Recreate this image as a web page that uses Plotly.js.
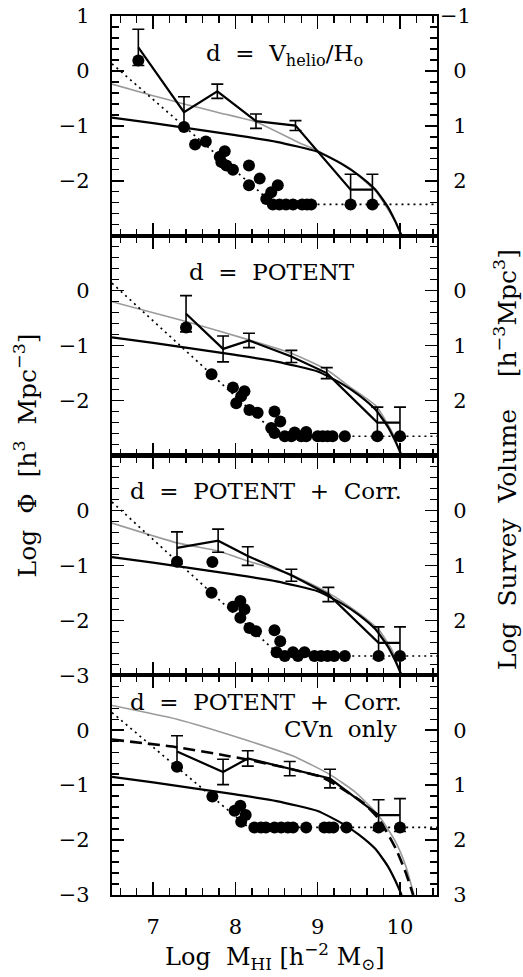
<!DOCTYPE html>
<html><head><meta charset="utf-8">
<script src="https://cdn.plot.ly/plotly-3.0.1.min.js"></script>
<style>html,body{margin:0;padding:0;background:#fff}</style>
</head><body><div id="chart" style="width:523px;height:977px"></div>
<script>
// ---------- shared reference Schechter function (solid, all panels) ----------
const schX = [6.5, 7.0, 7.5, 8.0, 8.5, 9.0, 9.3, 9.5, 9.7, 9.85, 9.95, 10.02];
const schY = [-0.85, -0.95, -1.06, -1.17, -1.29, -1.47, -1.70, -1.90, -2.16, -2.47, -2.76, -3.0];

// ---------- panel 1 : d = Vhelio/Ho ----------
const hx1 = [6.82, 7.375, 7.78, 8.25, 8.73, 9.40, 9.665];
const hy1 = [0.43, -0.75, -0.37, -0.915, -0.994, -2.16, -2.16];
const he1 = [0.33, 0.28, 0.13, 0.13, 0.09, 0.28, 0.28];
const gx1 = [6.5, 7.0, 7.375, 7.8, 8.25, 8.78, 9.0, 9.38, 9.71, 9.95, 10.02];
const gy1 = [-0.24, -0.45, -0.6, -0.76, -0.93, -1.31, -1.45, -1.76, -2.2, -2.76, -3.0];
const dx1 = [6.82, 7.375, 7.51, 7.64, 7.81, 7.87, 7.83, 7.89, 7.97, 8.165, 8.295, 8.165, 8.435, 8.515, 8.375, 8.455, 8.535, 8.615, 8.70, 8.81, 8.87, 8.92, 9.40, 9.665];
const dv1 = [-0.19, 1.02, 1.34, 1.285, 1.56, 1.46, 1.66, 1.72, 1.80, 1.72, 1.96, 2.08, 2.21, 2.08, 2.33, 2.43, 2.43, 2.43, 2.43, 2.43, 2.43, 2.43, 2.43, 2.43];
const lx1 = [6.5, 8.47, 10.45];
const lv1 = [-0.13, 2.43, 2.43];

// ---------- panel 2 : d = POTENT ----------
const hx2 = [7.40, 7.85, 8.165, 8.68, 9.11, 9.725, 10.0];
const hy2 = [-0.42, -1.06, -0.906, -1.197, -1.5, -2.40, -2.40];
const he2 = [0.33, 0.235, 0.13, 0.11, 0.1, 0.28, 0.28];
const gx2 = [6.5, 7.4, 8.165, 8.68, 9.11, 9.38, 9.71, 9.91, 10.0];
const gy2 = [-0.2, -0.56, -0.895, -1.14, -1.44, -1.74, -2.10, -2.59, -2.95];
const dx2 = [7.40, 7.71, 7.97, 8.07, 8.11, 8.01, 8.17, 8.27, 8.475, 8.545, 8.435, 8.475, 8.60, 8.68, 8.72, 8.80, 8.86, 8.86, 9.0, 9.06, 9.12, 9.18, 9.33, 9.725, 10.0];
const dv2 = [0.67, 1.52, 1.76, 1.92, 1.83, 2.05, 2.17, 2.22, 2.20, 2.38, 2.50, 2.59, 2.65, 2.65, 2.58, 2.65, 2.57, 2.65, 2.65, 2.65, 2.65, 2.65, 2.65, 2.65, 2.65];
const lx2 = [6.5, 8.53, 10.45];
const lv2 = [-0.137, 2.65, 2.65];

// ---------- panel 3 : d = POTENT + Corr. ----------
const hx3 = [7.29, 7.79, 8.15, 8.68, 9.13, 9.74, 10.0];
const hy3 = [-0.68, -0.55, -0.83, -1.18, -1.53, -2.41, -2.41];
const he3 = [0.29, 0.21, 0.17, 0.11, 0.13, 0.29, 0.29];
const gx3 = [6.5, 7.29, 7.79, 8.15, 8.68, 9.13, 9.46, 9.74, 9.91, 10.0];
const gy3 = [-0.23, -0.59, -0.74, -0.92, -1.17, -1.50, -1.83, -2.17, -2.56, -2.95];
const dx3 = [7.29, 7.72, 7.71, 7.97, 8.06, 8.11, 8.06, 8.17, 8.25, 8.475, 8.545, 8.50, 8.60, 8.70, 8.76, 8.84, 8.96, 9.04, 9.12, 9.2, 9.33, 9.74, 10.0];
const dv3 = [0.936, 0.94, 1.50, 1.755, 1.65, 1.80, 1.955, 2.14, 2.20, 2.18, 2.38, 2.58, 2.65, 2.58, 2.65, 2.58, 2.65, 2.65, 2.65, 2.65, 2.65, 2.65, 2.65];
const lx3 = [6.5, 8.55, 10.45];
const lv3 = [-0.154, 2.65, 2.65];

// ---------- panel 4 : d = POTENT + Corr., CVn only ----------
const hx4 = [7.29, 7.85, 8.15, 8.66, 9.15, 9.74, 10.0];
const hy4 = [-0.39, -0.76, -0.515, -0.70, -0.88, -1.545, -1.545];
const he4 = [0.29, 0.23, 0.14, 0.13, 0.17, 0.28, 0.30];
const gx4 = [6.5, 7.29, 8.09, 8.70, 9.14, 9.46, 9.745, 9.95, 10.07, 10.17];
const gy4 = [0.45, 0.2, -0.16, -0.47, -0.80, -1.13, -1.56, -2.04, -2.47, -3.0];
const kx4 = [6.5, 7.29, 7.86, 8.16, 8.66, 9.06, 9.30, 9.545, 9.745, 9.95, 10.07, 10.16];
const ky4 = [-0.17, -0.31, -0.455, -0.54, -0.70, -0.86, -1.07, -1.31, -1.62, -2.16, -2.59, -3.0];
const dx4 = [7.29, 7.72, 8.06, 7.99, 8.125, 8.07, 8.23, 8.31, 8.37, 8.475, 8.556, 8.637, 8.70, 8.86, 9.08, 9.14, 9.19, 9.35, 9.74, 10.0];
const dv4 = [0.665, 1.205, 1.375, 1.465, 1.545, 1.665, 1.77, 1.77, 1.77, 1.77, 1.77, 1.77, 1.77, 1.77, 1.77, 1.77, 1.77, 1.77, 1.77, 1.77];
const lx4 = [6.5, 8.16, 10.45];
const lv4 = [-0.32, 1.77, 1.77];

// ---------- labels ----------
const SP = "\u00a0\u00a0";
const panelLabels = ["d" + SP + "=" + SP + "V<sub>helio</sub>/H<sub>o</sub>", "d" + SP + "=" + SP + "POTENT",
  "d" + SP + "=" + SP + "POTENT" + SP + "+" + SP + "Corr.", "d" + SP + "=" + SP + "POTENT" + SP + "+" + SP + "Corr."];
const panel4Line2 = "CVn" + SP + "only";
const xTicks = [7, 8, 9, 10];
const leftTicks = [[1, 0, -1, -2], [0, -1, -2], [0, -1, -2, -3], [0, -1, -2, -3]];
const rightTicks = [[-1, 0, 1, 2], [0, 1, 2], [0, 1, 2], [0, 1, 2, 3]];
const xTitle = "Log" + SP + "M<sub>HI</sub>\u00a0[h<sup>\u22122</sup>\u00a0M<sub>\u2299</sub>]";
const yTitle = "Log" + SP + "\u03a6" + SP + "[h<sup>3</sup>" + SP + "Mpc<sup>\u22123</sup>]";
const y2Title = "Log" + SP + "Survey" + SP + "Volume" + SP + SP + "[h<sup>\u22123</sup>Mpc<sup>3</sup>]";

const FONT = "DejaVu Serif";
const H = [[hx1,hy1,he1],[hx2,hy2,he2],[hx3,hy3,he3],[hx4,hy4,he4]];
const G = [[gx1,gy1],[gx2,gy2],[gx3,gy3],[gx4,gy4]];
const D = [[dx1,dv1],[dx2,dv2],[dx3,dv3],[dx4,dv4]];
const L = [[lx1,lv1],[lx2,lv2],[lx3,lv3],[lx4,lv4]];

const traces = [];
const layout = {
  width: 523, height: 977,
  margin: {l: 112, r: 85.5, t: 16, b: 82},
  paper_bgcolor: "#fff", plot_bgcolor: "rgba(0,0,0,0)",
  showlegend: false,
  font: {family: FONT, size: 21, color: "#000"},
  annotations: []
};
const domains = [[0.75, 1], [0.5, 0.75], [0.25, 0.5], [0, 0.25]];
const fmt = v => (v < 0 ? "\u2212" + Math.abs(v) : "\u2007" + v);

for (let k = 0; k < 4; k++) {
  const s = k === 0 ? "" : String(k + 1);
  const xa = "x" + s, ya = "y" + s, yr = "y" + (k + 5);
  // survey volume limit (dotted) and galaxies (dots), on right (reversed) axis
  traces.push({x: L[k][0], y: L[k][1], xaxis: xa, yaxis: yr, mode: "lines",
    line: {color: "#000", width: 1.7, dash: "2px,4px"}, hoverinfo: "skip"});
  traces.push({x: D[k][0], y: D[k][1], xaxis: xa, yaxis: yr, mode: "markers",
    marker: {color: "#000", size: 12, line: {width: 0}}, hoverinfo: "skip"});
  // gray fitted Schechter function
  traces.push({x: G[k][0], y: G[k][1], xaxis: xa, yaxis: ya, mode: "lines",
    line: {color: "#9a9a9a", width: 1.6, shape: "spline", smoothing: 0.5}, hoverinfo: "skip"});
  if (k === 3) {
    traces.push({x: kx4, y: ky4, xaxis: xa, yaxis: ya, mode: "lines",
      line: {color: "#000", width: 2.6, dash: "12px,6px", shape: "spline", smoothing: 0.5}, hoverinfo: "skip"});
  }
  // reference Schechter function
  traces.push({x: schX, y: schY, xaxis: xa, yaxis: ya, mode: "lines",
    line: {color: "#000", width: 2.2, shape: "spline", smoothing: 0.5}, hoverinfo: "skip"});
  // binned estimates with errors
  traces.push({x: H[k][0], y: H[k][1], xaxis: xa, yaxis: ya, mode: "lines",
    line: {color: "#000", width: 2.2},
    error_y: {type: "data", array: H[k][2], visible: true, color: "#000", thickness: 1.6, width: 6},
    hoverinfo: "skip"});

  layout["xaxis" + s] = {
    domain: [0, 1], anchor: ya, range: [6.5, 10.45],
    tickmode: "array", tickvals: xTicks, showticklabels: k === 3,
    ticks: "inside", ticklen: 13, tickwidth: 1.5, tickcolor: "#000",
    minor: {dtick: 0.2, tick0: 0, ticks: "inside", ticklen: 7, tickwidth: 1.3, tickcolor: "#000"},
    mirror: "ticks", showline: true, linewidth: 2.2, linecolor: "#000",
    showgrid: false, zeroline: false, ticklabelstandoff: 12,
    tickfont: {family: FONT, size: 21, color: "#000"}
  };
  layout["yaxis" + s] = {
    domain: domains[k], anchor: xa, range: [-3, 1],
    tickmode: "array", tickvals: leftTicks[k], ticktext: leftTicks[k].map(v => v < 0 ? "\u2212" + Math.abs(v) : String(v)),
    ticks: "inside", ticklen: 12, tickwidth: 1.5, tickcolor: "#000",
    minor: {dtick: 0.2, tick0: 0, ticks: "inside", ticklen: 7, tickwidth: 1.3, tickcolor: "#000"},
    mirror: "ticks", showline: true, linewidth: 2.2, linecolor: "#000",
    showgrid: false, zeroline: false, ticklabelstandoff: 16,
    tickfont: {family: FONT, size: 21, color: "#000"}
  };
  layout["yaxis" + (k + 5)] = {
    domain: domains[k], anchor: xa, overlaying: ya, side: "right", range: [3, -1],
    tickmode: "array", tickvals: rightTicks[k], ticktext: rightTicks[k].map(fmt),
    ticks: "", showline: false, showgrid: false, zeroline: false, ticklabelstandoff: 2,
    tickfont: {family: FONT, size: 21, color: "#000"}
  };
}

// panel labels
const PF = {family: FONT, size: 23, color: "#000"};
layout.annotations.push({xref: "x", yref: "y", x: 8.6, y: 0.29, text: panelLabels[0], showarrow: false,
  xanchor: "center", yanchor: "middle", font: PF});
layout.annotations.push({xref: "x2", yref: "y2", x: 8.44, y: 0.34, text: panelLabels[1], showarrow: false,
  xanchor: "center", yanchor: "middle", font: PF});
layout.annotations.push({xref: "x3", yref: "y3", x: 6.7, y: 0.355, text: panelLabels[2], showarrow: false,
  xanchor: "left", yanchor: "middle", font: PF});
layout.annotations.push({xref: "x4", yref: "y4", x: 6.7, y: 0.52, text: panelLabels[3], showarrow: false,
  xanchor: "left", yanchor: "middle", font: PF});
layout.annotations.push({xref: "x4", yref: "y4", x: 9.99, y: 0.03, text: panel4Line2, showarrow: false,
  xanchor: "right", yanchor: "middle", font: PF});
// axis titles
layout.annotations.push({xref: "paper", yref: "paper", x: 0.5008, y: -0.0705, text: xTitle, showarrow: false,
  xanchor: "center", yanchor: "middle", font: {family: FONT, size: 24, color: "#000"}});
layout.annotations.push({xref: "paper", yref: "paper", x: -0.265, y: 0.50, text: yTitle, showarrow: false,
  textangle: -90, xanchor: "center", yanchor: "middle", font: {family: FONT, size: 25, color: "#000"}});
layout.annotations.push({xref: "paper", yref: "paper", x: 1.213, y: 0.495, text: y2Title, showarrow: false,
  textangle: -90, xanchor: "center", yanchor: "middle", font: {family: FONT, size: 25, color: "#000"}});

Plotly.newPlot("chart", traces, layout, {staticPlot: true, displayModeBar: false});
</script></body></html>
